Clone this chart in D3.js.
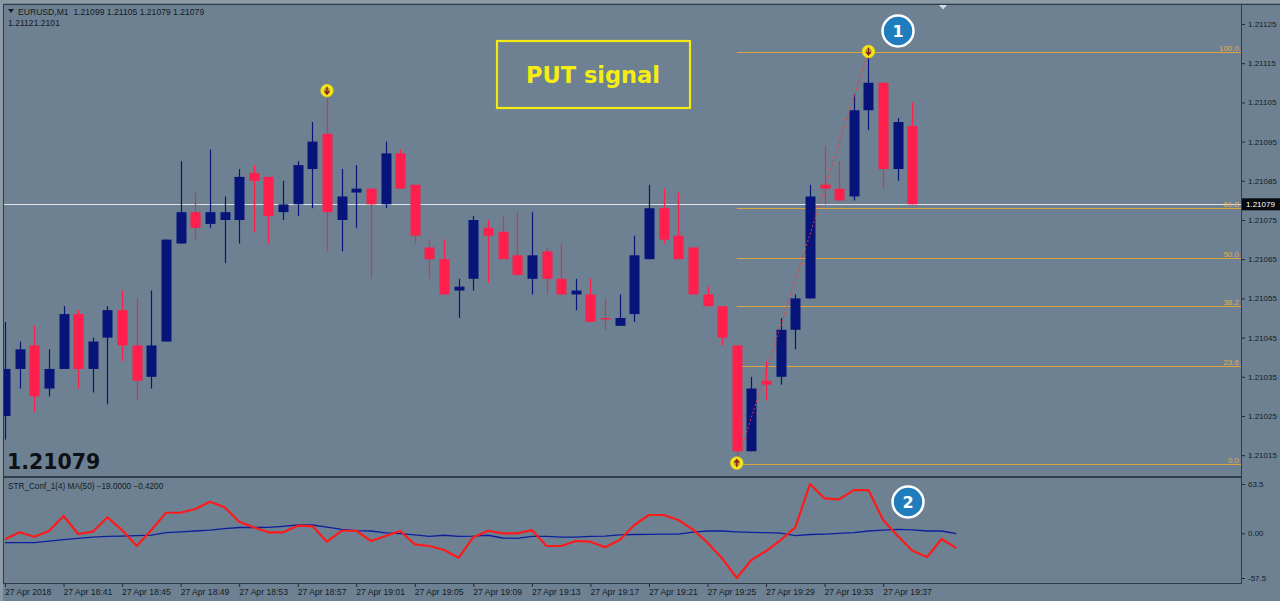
<!DOCTYPE html>
<html><head><meta charset="utf-8">
<script src="https://cdn.jsdelivr.net/npm/d3@7"></script>
<style>body{margin:0;background:#6d8193;} svg{display:block}</style>
</head><body><svg id="c" width="1280" height="601"></svg>
<script>
// ---- data ----
const opens = [1.21025,1.21037,1.21043,1.21032,1.21037,1.21051,1.21037,1.21045,1.21052,1.21043,1.21035,1.21044,1.21069,1.21077,1.21074,1.21075,1.21075,1.21087,1.21086,1.21077,1.21079,1.21088,1.21097,1.21075,1.21082,1.21083,1.21079,1.21092,1.21084,1.21068,1.21065,1.21057,1.21060,1.21073,1.21072,1.21066,1.21060,1.21067,1.21060,1.21056,1.21056,1.21050,1.21048,1.21051,1.21065,1.21078,1.21071,1.21068,1.21056,1.21053,1.21043,1.21016,1.21034,1.21035,1.21047,1.21055,1.21084,1.21083,1.21081,1.21103,1.21110,1.21088,1.21099];
const highs = [1.21049,1.21044,1.21048,1.21042,1.21053,1.21052,1.21045,1.21053,1.21057,1.21055,1.21057,1.21070,1.21090,1.21082,1.21093,1.21081,1.21088,1.21089,1.21086,1.21085,1.21090,1.21100,1.21106,1.21088,1.21089,1.21083,1.21095,1.21093,1.21084,1.21070,1.21070,1.21060,1.21076,1.21075,1.21076,1.21077,1.21077,1.21068,1.21069,1.21060,1.21060,1.21055,1.21056,1.21071,1.21084,1.21083,1.21082,1.21068,1.21058,1.21053,1.21043,1.21035,1.21039,1.21050,1.21056,1.21084,1.21094,1.21090,1.21107,1.21118,1.21110,1.21101,1.21105];
const lows = [1.21019,1.21032,1.21026,1.21030,1.21037,1.21032,1.21031,1.21028,1.21039,1.21029,1.21032,1.21044,1.21069,1.21070,1.21073,1.21064,1.21069,1.21072,1.21069,1.21075,1.21076,1.21078,1.21067,1.21067,1.21073,1.21060,1.21078,1.21083,1.21069,1.21060,1.21056,1.21050,1.21057,1.21059,1.21065,1.21061,1.21056,1.21056,1.21056,1.21052,1.21049,1.21047,1.21048,1.21049,1.21065,1.21069,1.21065,1.21056,1.21053,1.21043,1.21013,1.21016,1.21029,1.21033,1.21042,1.21055,1.21079,1.21080,1.21080,1.21098,1.21083,1.21085,1.21079];
const closes = [1.21037,1.21042,1.21030,1.21037,1.21051,1.21037,1.21044,1.21052,1.21043,1.21034,1.21043,1.21070,1.21077,1.21073,1.21077,1.21077,1.21086,1.21085,1.21076,1.21079,1.21089,1.21095,1.21077,1.21081,1.21083,1.21079,1.21092,1.21083,1.21071,1.21065,1.21056,1.21058,1.21075,1.21071,1.21065,1.21061,1.21066,1.21060,1.21056,1.21057,1.21049,1.21050,1.21050,1.21066,1.21078,1.21070,1.21065,1.21056,1.21053,1.21045,1.21016,1.21032,1.21033,1.21047,1.21055,1.21081,1.21083,1.21080,1.21103,1.21110,1.21088,1.21100,1.21079];

const strValues = [-7.7,1.3,-4.4,3,22.3,-0.9,2.1,20.6,4.2,-16.3,4.2,26.5,26.5,31.3,40.7,33.5,14.9,7.7,1.3,1.3,9.8,9.4,-10.8,3.3,3.3,-9.9,-3.5,3,-14.2,-16.3,-21.5,-31.4,-5,3.3,0,0,4.2,-16.3,-16.3,-9.9,-10.8,-18,-8.6,10.7,23.6,23.6,17.1,5.1,-12.1,-32.2,-57.5,-34.4,-22.8,-8.6,7.7,63.5,45,43.8,55.7,55.7,17.1,-3.5,-22.4,-30.5,-7.3,-19];
const maValues = [-12,-12,-12,-10,-8,-6.5,-5,-4,-3.5,-3,-2.2,1,2,3,4,6,7.5,7.5,7.7,9,10.7,10.7,8,5,3.5,3,0.5,-0.5,-2,-4,-2.5,-4,-3.5,-2.5,-6,-6.4,-4,-4,-5,-5,-4,-3.5,-2,-1.5,-1.3,-1,-0.9,1.5,3,3,2,1.3,0.8,0.2,-3,-1.5,-0.9,0,1,3,4,5,4.5,3,3,-0.42];

const priceTicks = [1.21125,1.21115,1.21105,1.21095,1.21085,1.21075,1.21065,1.21055,1.21045,1.21035,1.21025,1.21015];
const indTicks = [63.5,0,-57.5];
const indTickLabels = ["63.5","0.00","-57.5"];
const timeTickIdx = [0,4,8,12,16,20,24,28,32,36,40,44,48,52,56,60];
const timeTickLabels = ["27 Apr 2018","27 Apr 18:41","27 Apr 18:45","27 Apr 18:49","27 Apr 18:53","27 Apr 18:57","27 Apr 19:01","27 Apr 19:05","27 Apr 19:09","27 Apr 19:13","27 Apr 19:17","27 Apr 19:21","27 Apr 19:25","27 Apr 19:29","27 Apr 19:33","27 Apr 19:37"];

const fibLevels = [0,23.6,38.2,50,61.8,100];
const fibLabels = ["0.0","23.6","38.2","50.0","61.8","100.0"];
const fibLow = 1.21013, fibHigh = 1.21118, fibLowIdx = 50, fibHighIdx = 59;
const markerIdx = [22,59,50];
const markerPrice = [1.21108,1.21118,1.21013];
const markerDir = ["down","down","up"];
const lastPrice = 1.21079;

// ---- layout ----
const svg = d3.select("#c");
const P = {left:4,right:1241,top:5,bottom:476};
const I = {top:479,bottom:583};
const x = d3.scaleLinear().domain([0,62]).range([5,912.4]);
const y = d3.scaleLinear().domain([1.21015,1.21125]).range([455.2,24]);
const yi = d3.scaleLinear().domain([-57.5,63.5]).range([578,484]);

const BG = "#6d8193", BLUE = "#07147a", RED = "#ff1f4c", FIB = "#dba43c", TXT = "#141c24";

svg.append("rect").attr("width",1280).attr("height",601).attr("fill",BG);
svg.append("rect").attr("width",1280).attr("height",3).attr("fill","#8c9aa5");
svg.append("rect").attr("width",3).attr("height",601).attr("fill","#8c9aa5");

const defs = svg.append("defs");
defs.append("clipPath").attr("id","cm").append("rect").attr("x",P.left).attr("y",P.top).attr("width",P.right-P.left).attr("height",P.bottom-P.top);
defs.append("clipPath").attr("id","ci").append("rect").attr("x",P.left).attr("y",I.top).attr("width",P.right-P.left).attr("height",I.bottom-I.top);

// frame lines
const frame = svg.append("g").attr("stroke","#2f3b46").attr("fill","none");
frame.append("line").attr("x1",3).attr("x2",1280).attr("y1",4.5).attr("y2",4.5);
frame.append("line").attr("x1",3.5).attr("x2",3.5).attr("y1",4).attr("y2",I.bottom);
frame.append("line").attr("x1",P.right+0.5).attr("x2",P.right+0.5).attr("y1",4).attr("y2",I.bottom+1);
frame.append("line").attr("x1",3).attr("x2",P.right+1).attr("y1",477).attr("y2",477).attr("stroke-width",2);
frame.append("line").attr("x1",3).attr("x2",P.right+1).attr("y1",I.bottom+0.5).attr("y2",I.bottom+0.5);

const main = svg.append("g").attr("clip-path","url(#cm)");

// current price line
main.append("line").attr("x1",P.left).attr("x2",P.right).attr("y1",Math.round(y(lastPrice))+0.5).attr("y2",Math.round(y(lastPrice))+0.5).attr("stroke","#dde3e8").attr("stroke-width",1);

// fibo (snapped to even pixel rows so the thin colour survives image compression)
const fibG = main.append("g");
fibLevels.forEach((lv,k)=>{
  const p = fibLow + (fibHigh-fibLow)*lv/100;
  const yy = Math.round(y(p)/2)*2 + 0.5;
  fibG.append("line").attr("x1",x(fibLowIdx)).attr("x2",P.right).attr("y1",yy).attr("y2",yy).attr("stroke",FIB).attr("stroke-width",1.1);
  fibG.append("text").attr("x",P.right-2).attr("y",yy-2).attr("text-anchor","end").attr("font-family","Liberation Sans, Arial, sans-serif").attr("font-size",8).attr("fill","#e8ac48").text(fibLabels[k]);
});

// candles
const idx = d3.range(opens.length);
const cg = main.append("g");
idx.forEach(i=>{
  const c = Math.round(x(i));
  const col = closes[i] > opens[i] ? BLUE : RED;
  cg.append("line").attr("x1",c+0.5).attr("x2",c+0.5).attr("y1",y(highs[i])).attr("y2",y(lows[i])).attr("stroke",col).attr("stroke-width",1.2);
  const top = y(Math.max(opens[i],closes[i])), bot = y(Math.min(opens[i],closes[i]));
  cg.append("rect").attr("x",c-4.5).attr("width",10).attr("y",top).attr("height",Math.max(1.5,bot-top)).attr("fill",col);
});

// fibo trend line
main.append("line").attr("x1",x(fibLowIdx)).attr("y1",y(fibLow)).attr("x2",x(fibHighIdx)).attr("y2",y(fibHigh)).attr("stroke","#ff3030").attr("stroke-width",1).attr("stroke-dasharray","2,2");

// markers
markerIdx.forEach((mi,k)=>{
  const cx = x(mi), cy = y(markerPrice[k]);
  const g = main.append("g").attr("transform",`translate(${cx},${cy})`);
  g.append("circle").attr("r",6.3).attr("fill","#f4e81a").attr("stroke","#e0cf10").attr("stroke-width",0.8);
  g.append("circle").attr("r",3.2).attr("fill","#b8a23a");
  const d = markerDir[k]==="down" ? 1 : -1;
  g.append("path").attr("d",`M0,${-4*d} L0,${3*d} M-2.2,${0.5*d} L0,${3.5*d} L2.2,${0.5*d}`).attr("stroke","#8a1a10").attr("stroke-width",1.3).attr("fill","none");
});

// indicator
const ind = svg.append("g").attr("clip-path","url(#ci)");
const ln = d3.line().x((d,i)=>x(i)).y(d=>yi(d));
ind.append("path").datum(maValues).attr("d",ln).attr("fill","none").attr("stroke","#0e1f9e").attr("stroke-width",1.3);
ind.append("path").datum(strValues).attr("d",ln).attr("fill","none").attr("stroke","#ff1a1a").attr("stroke-width",2.2).attr("stroke-linejoin","round");

// axes
const fontS = "Liberation Sans, Arial, sans-serif";
const pa = d3.axisRight(y).tickValues(priceTicks).tickFormat(d3.format(".5f")).tickSize(3).tickPadding(3);
const paG = svg.append("g").attr("transform",`translate(${P.right+1},0)`).call(pa);
const ia = d3.axisRight(yi).tickValues(indTicks).tickFormat((d,i)=>indTickLabels[i]).tickSize(3).tickPadding(3);
const iaG = svg.append("g").attr("transform",`translate(${P.right+1},0)`).call(ia);
const ta = d3.axisBottom(x).tickValues(timeTickIdx).tickFormat((d,i)=>timeTickLabels[i]).tickSize(3).tickPadding(2);
const taG = svg.append("g").attr("transform",`translate(0,${I.bottom+1})`).call(ta);
[paG,iaG,taG].forEach(g=>{
  g.select(".domain").remove();
  g.selectAll("line").attr("stroke","#1e2a34");
  g.selectAll("text").attr("fill",TXT).attr("font-family",fontS).attr("font-size",8);
});
taG.selectAll("text").attr("text-anchor","start").attr("dx",-0.5).attr("font-size",8.6);

// price label box
const ly = y(lastPrice);
svg.append("rect").attr("x",P.right+1).attr("y",ly-6).attr("width",40).attr("height",12).attr("fill","#05080c");
svg.append("text").attr("x",P.right+5).attr("y",ly+3).attr("fill","#ffffff").attr("font-family",fontS).attr("font-size",8).text(d3.format(".5f")(lastPrice));

// header texts
svg.append("path").attr("d","M8,9 L14,9 L11,13 Z").attr("fill","#141c24");
svg.append("text").attr("x",18).attr("y",14.5).attr("font-family",fontS).attr("font-size",8.6).attr("fill",TXT).attr("xml:space","preserve")
  .text("EURUSD,M1  " + [opens[62],highs[62],lows[62],closes[62]].map(d3.format(".5f")).join(" "));
svg.append("text").attr("x",8).attr("y",26).attr("font-family",fontS).attr("font-size",8.6).attr("fill",TXT).text("1.21121.2101");
svg.append("text").attr("x",8).attr("y",489).attr("font-family",fontS).attr("font-size",8.2).attr("fill",TXT)
  .text("STR_Conf_1(4) MA(50) " + d3.format(".4f")(strValues[strValues.length-1]) + " " + d3.format(".4f")(maValues[maValues.length-1]));

// big price text
svg.append("text").attr("x",7).attr("y",469).attr("font-family","DejaVu Sans, sans-serif").attr("font-weight","bold").attr("font-size",20.5).attr("fill","#0d1014").text(d3.format(".5f")(lastPrice));

// PUT signal box
svg.append("rect").attr("x",497).attr("y",41).attr("width",193).attr("height",67).attr("fill","none").attr("stroke","#f2ea10").attr("stroke-width",2.2);
svg.append("text").attr("x",593).attr("y",83).attr("text-anchor","middle").attr("font-family","DejaVu Sans, sans-serif").attr("font-weight","bold").attr("font-size",22.5).attr("fill","#f6ee12").text("PUT signal");

// numbered badges
[["1",898,31],["2",908,502]].forEach(b=>{
  svg.append("circle").attr("cx",b[1]).attr("cy",b[2]).attr("r",15.5).attr("fill","#1f7cbd").attr("stroke","#ffffff").attr("stroke-width",2.5);
  svg.append("text").attr("x",b[1]).attr("y",b[2]+6).attr("text-anchor","middle").attr("font-family","DejaVu Sans, sans-serif").attr("font-weight","bold").attr("font-size",16).attr("fill","#ffffff").text(b[0]);
});

// chart shift marker
svg.append("path").attr("d","M939,5 L947,5 L943,9.5 Z").attr("fill","#d6dde3");
</script></body></html>
